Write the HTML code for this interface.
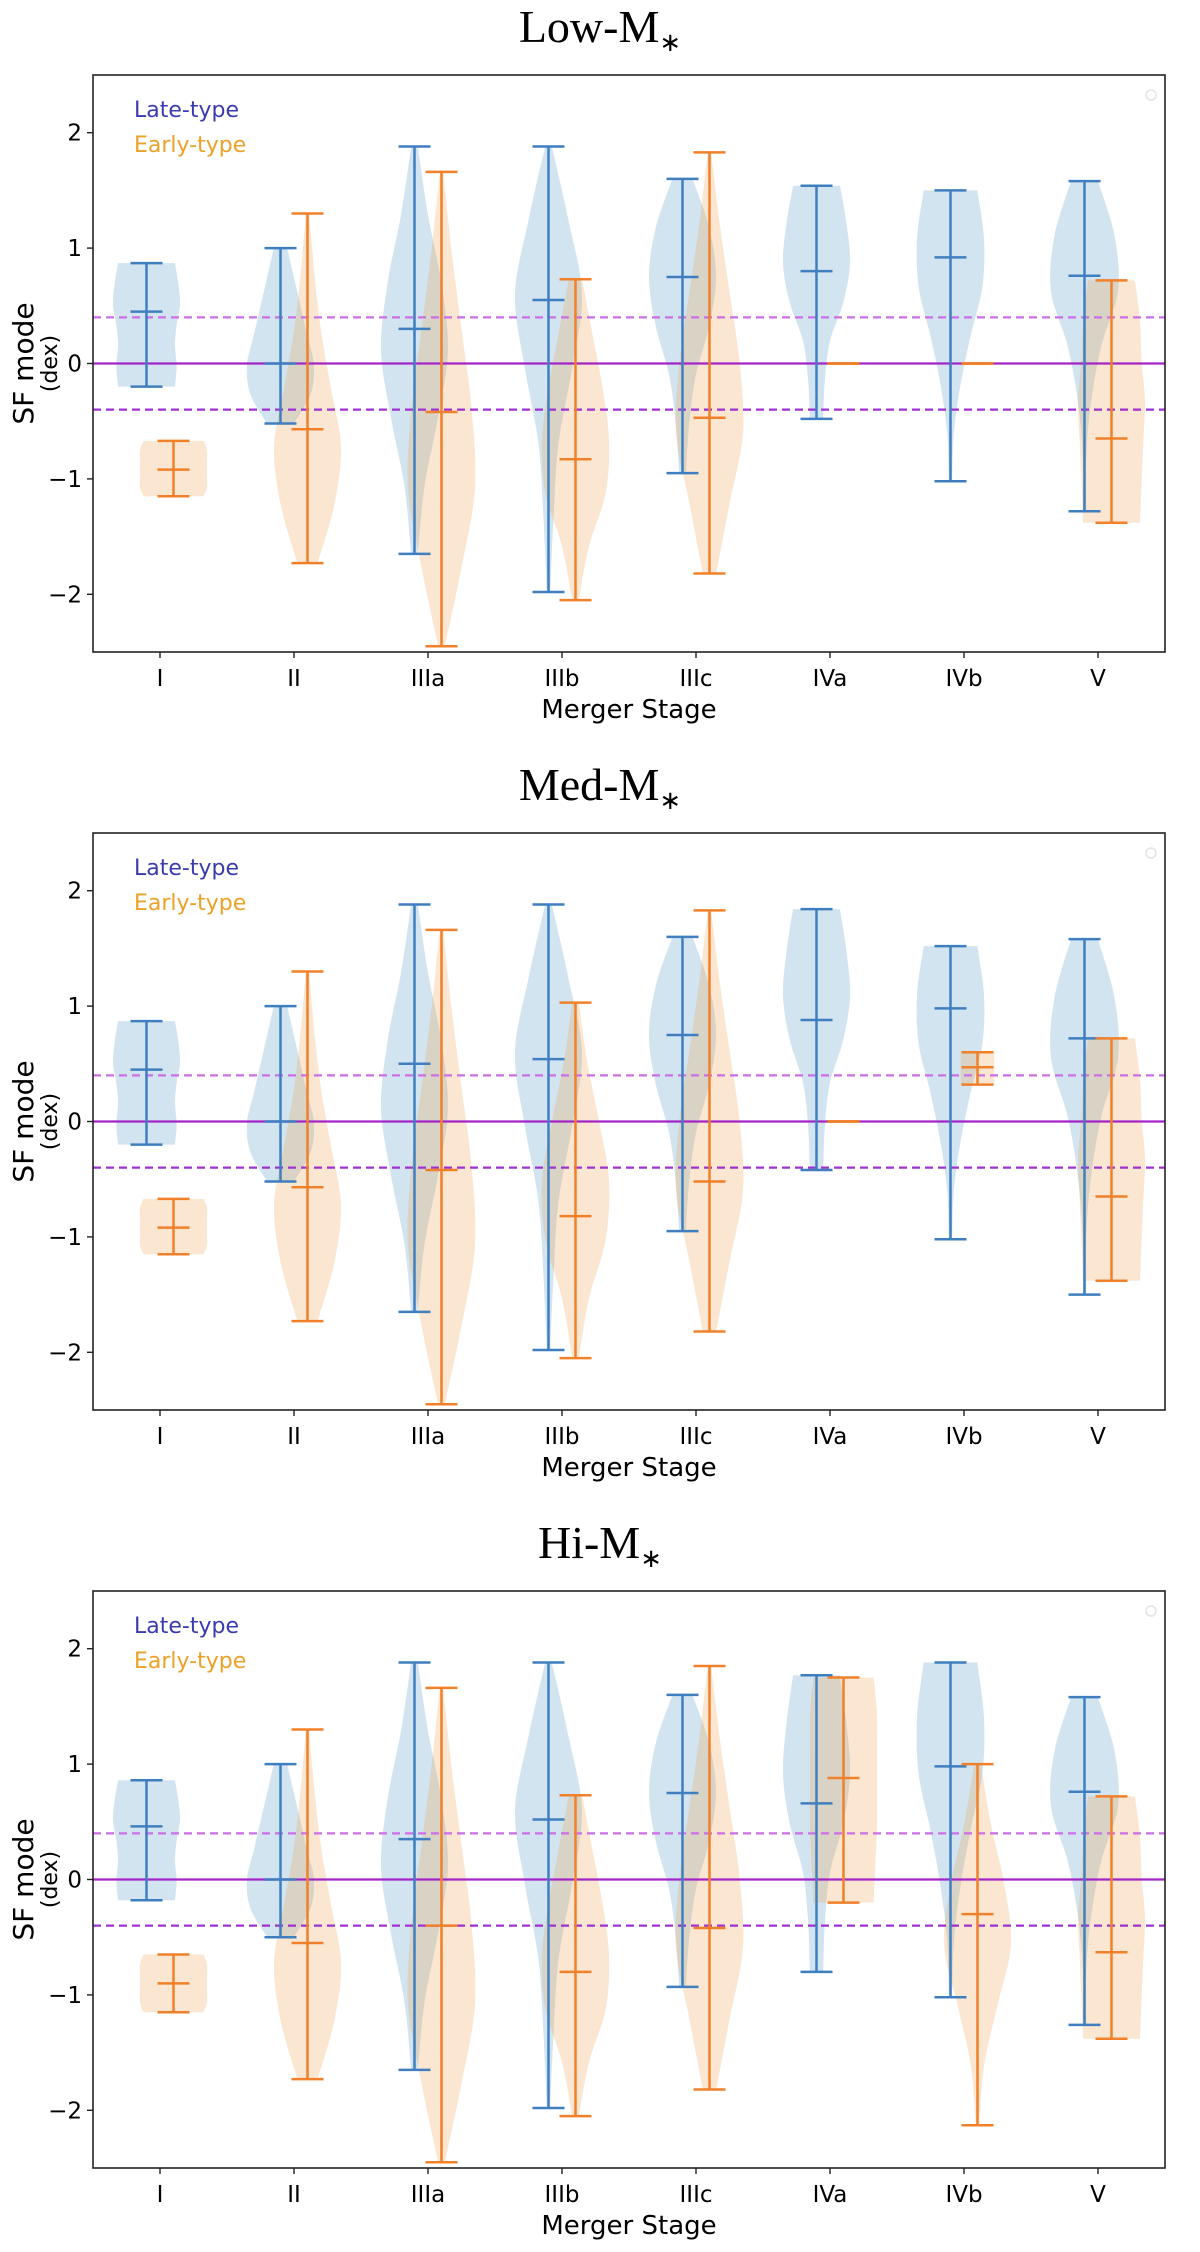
<!DOCTYPE html>
<html><head><meta charset="utf-8">
<style>
html,body{margin:0;padding:0;background:#fff;}
svg{display:block;}
text{font-family:"DejaVu Sans","Liberation Sans",sans-serif;}
text.serif{font-family:"Liberation Serif",serif;}
</style></head>
<body>
<svg id="chart" width="1200" height="2252" viewBox="0 0 1200 2252" xmlns="http://www.w3.org/2000/svg"></svg>
<script>
// ---- data ----
const categories = ["I","II","IIIa","IIIb","IIIc","IVa","IVb","V"];
const panelTitles = ["Low", "Med", "Hi"];
const yTicks = [-2,-1,0,1,2];
const yTickLabels = ["\u22122","\u22121","0","1","2"];
const refLines = [0.4, 0, -0.4];

// [max, median, min] per category, per panel
const lateLow  = [[0.87,0.45,-0.2],[1.0,0.0,-0.52],[1.88,0.3,-1.65],[1.88,0.55,-1.98],[1.6,0.75,-0.95],[1.54,0.8,-0.48],[1.5,0.92,-1.02],[1.58,0.76,-1.28]];
const earlyLow = [[-0.67,-0.92,-1.15],[1.3,-0.57,-1.73],[1.66,-0.42,-2.45],[0.73,-0.83,-2.05],[1.83,-0.47,-1.82],[0,0,0],[0,0,0],[0.72,-0.65,-1.38]];
const lateMed  = [[0.87,0.45,-0.2],[1.0,0.0,-0.52],[1.88,0.5,-1.65],[1.88,0.54,-1.98],[1.6,0.75,-0.95],[1.84,0.88,-0.42],[1.52,0.98,-1.02],[1.58,0.72,-1.5]];
const earlyMed = [[-0.67,-0.92,-1.15],[1.3,-0.57,-1.73],[1.66,-0.42,-2.45],[1.03,-0.82,-2.05],[1.83,-0.52,-1.82],[0,0,0],[0.6,0.47,0.32],[0.72,-0.65,-1.38]];
const lateHi   = [[0.86,0.46,-0.18],[1.0,0.0,-0.5],[1.88,0.35,-1.65],[1.88,0.52,-1.98],[1.6,0.75,-0.93],[1.77,0.66,-0.8],[1.88,0.98,-1.02],[1.58,0.76,-1.26]];
const earlyHi  = [[-0.65,-0.9,-1.15],[1.3,-0.55,-1.73],[1.66,-0.4,-2.45],[0.73,-0.8,-2.05],[1.85,-0.42,-1.82],[1.75,0.88,-0.2],[1.0,-0.3,-2.13],[0.72,-0.63,-1.38]];

// normalized density profiles (top -> bottom)
const lateShapes = [[0.85,0.95,1,0.9,0.85,0.9,0.85],[0.2,0.4,0.6,0.8,1,0.9,0.4],[0.1,0.4,0.8,1,0.7,0.3,0.1],[0.1,0.6,1,0.7,0.3,0.15,0.05],[0.3,0.8,1,0.8,0.4,0.2,0.1],[0.7,0.9,1,0.8,0.4,0.25,0.2],[0.8,1,0.95,0.6,0.3,0.1,0.05],[0.4,0.9,1,0.5,0.2,0.05,0.05]];
const earlyShapesLow = [[0.9,1,1,1,1,1,0.9],[0.05,0.2,0.4,0.7,1,0.8,0.3],[0.05,0.3,0.6,0.9,1,0.6,0.1],[0.2,0.5,0.8,1,0.9,0.4,0.1],[0.05,0.3,0.6,0.9,1,0.6,0.2],null,null,[0.7,0.85,0.9,1,0.95,0.9,0.85]];
const earlyShapesMed = [[0.9,1,1,1,1,1,0.9],[0.05,0.2,0.4,0.7,1,0.8,0.3],[0.05,0.3,0.6,0.9,1,0.6,0.1],[0.1,0.35,0.7,1,0.9,0.4,0.1],[0.05,0.3,0.6,0.9,1,0.6,0.2],null,[0.5,0.5,0.5,0.5,0.5,0.5,0.5],[0.7,0.85,0.9,1,0.95,0.9,0.85]];
const earlyShapesHi = [[0.9,1,1,1,1,1,0.9],[0.05,0.2,0.4,0.7,1,0.8,0.3],[0.05,0.3,0.6,0.9,1,0.6,0.1],[0.2,0.5,0.8,1,0.9,0.4,0.1],[0.05,0.3,0.6,0.9,1,0.6,0.2],[0.9,1,1,1,1,0.95,0.9],[0.1,0.4,0.8,1,0.6,0.2,0.05],[0.7,0.85,0.9,1,0.95,0.9,0.85]];

const lateSets = [lateLow, lateMed, lateHi];
const earlySets = [earlyLow, earlyMed, earlyHi];
const earlyShapeSets = [earlyShapesLow, earlyShapesMed, earlyShapesHi];

// ---- layout ----
const NS = "http://www.w3.org/2000/svg";
const svg = document.getElementById("chart");
const AX_L = 93, AX_R = 1165, AX_H = 577;
const panelTops = [75, 833, 1591];
const Y_MIN = -2.5, Y_MAX = 2.5;
const LATE_LINE = "#3f7fbf", LATE_FILL = "rgba(31,119,180,0.2)";
const EARLY_LINE = "#f0802a", EARLY_FILL = "rgba(240,160,70,0.25)";

function mk(tag, attrs, parent) {
  const e = document.createElementNS(NS, tag);
  for (const k in attrs) e.setAttribute(k, attrs[k]);
  (parent || svg).appendChild(e);
  return e;
}
function xScale(i) { return AX_L + (i + 0.5) * (AX_R - AX_L) / categories.length; }
function makeY(top) { return v => top + (Y_MAX - v) / (Y_MAX - Y_MIN) * AX_H; }
const HALF = 0.25 * (AX_R - AX_L) / categories.length;
const CAP = 16;

function smoothPath(pts) {
  let d = "M" + pts[0][0] + "," + pts[0][1];
  for (let i = 0; i < pts.length - 1; i++) {
    const p0 = pts[Math.max(0, i - 1)], p1 = pts[i], p2 = pts[i + 1], p3 = pts[Math.min(pts.length - 1, i + 2)];
    const c1 = [p1[0] + (p2[0] - p0[0]) / 6, p1[1] + (p2[1] - p0[1]) / 6];
    const c2 = [p2[0] - (p3[0] - p1[0]) / 6, p2[1] - (p3[1] - p1[1]) / 6];
    d += " C" + c1[0] + "," + c1[1] + " " + c2[0] + "," + c2[1] + " " + p2[0] + "," + p2[1];
  }
  return d;
}

function violinBody(g, cx, stats, shape, y, fill, name) {
  if (!shape) return;
  const [mx, , mn] = stats;
  const n = shape.length;
  const right = [], left = [];
  for (let k = 0; k < n; k++) {
    const v = mx - (mx - mn) * k / (n - 1);
    right.push([cx + shape[k] * HALF, y(v)]);
  }
  for (let k = n - 1; k >= 0; k--) {
    const v = mx - (mx - mn) * k / (n - 1);
    left.push([cx - shape[k] * HALF, y(v)]);
  }
  const d = smoothPath(right) + " L" + left[0][0] + "," + left[0][1] + smoothPath(left).replace(/^M[^C]*/, " ") + " Z";
  const p = mk("path", { d: d, fill: fill, stroke: "none" }, g);
  
  
}
function violinLines(g, cx, stats, y, color, name) {
  const [mx, md, mn] = stats;
  const l = mk("line", { x1: cx, x2: cx, y1: y(mx), y2: y(mn), stroke: color, "stroke-width": 2.5 }, g);
  
  
  [[mx, 'max'], [md, 'median'], [mn, 'min']].forEach(([v, lab]) => {
    const c = mk("line", { x1: cx - CAP, x2: cx + CAP, y1: y(v), y2: y(v), stroke: color, "stroke-width": 2.5 }, g);
    
    
  });
}

panelTops.forEach((top, p) => {
  const y = makeY(top);
  const bottom = top + AX_H;
  const g = mk("g", {});
  
  

  // title
  const t = mk("text", { x: 600, y: top - 33, "text-anchor": "middle", "font-size": 46, "class": "serif" }, g);
  
  
  t.textContent = panelTitles[p] + "-M";
  const sub = mk("tspan", { "font-size": 26, dy: 9 }, t);
  sub.textContent = "\u2217";

  // violin bodies
  const late = lateSets[p], early = earlySets[p];
  categories.forEach((c, i) => {
    const cx = xScale(i);
    violinBody(g, cx - 13.5, late[i], lateShapes[i], y, LATE_FILL, 'late-' + c);
    violinBody(g, cx + 13.5, early[i], earlyShapeSets[p][i], y, EARLY_FILL, 'early-' + c);
  });

  // reference lines
  refLines.forEach(v => {
    const attrs = { x1: AX_L, x2: AX_R, y1: y(v), y2: y(v), "stroke-width": 2.2 };
    if (v === 0) { attrs.stroke = "#a424c8"; }
    else { attrs.stroke = v > 0 ? "#cc6ee6" : "#a030d0"; attrs["stroke-dasharray"] = "8,5"; }
    const l = mk("line", attrs, g);
    
    
  });

  // violin lines
  categories.forEach((c, i) => {
    const cx = xScale(i);
    violinLines(g, cx - 13.5, late[i], y, LATE_LINE, 'late-' + c);
    violinLines(g, cx + 13.5, early[i], y, EARLY_LINE, 'early-' + c);
  });

  // frame
  const fr = mk("rect", { x: AX_L, y: top, width: AX_R - AX_L, height: AX_H, fill: "none", stroke: "#222", "stroke-width": 1.6 }, g);
  
  

  // y ticks
  yTicks.forEach((v, k) => {
    const tl = mk("line", { x1: AX_L - 6, x2: AX_L, y1: y(v), y2: y(v), stroke: "#222", "stroke-width": 1.4 }, g);
    
    
    const tx = mk("text", { x: AX_L - 11, y: y(v) + 8, "text-anchor": "end", "font-size": 23 }, g);
    
    
    tx.textContent = yTickLabels[k];
  });
  // x ticks
  categories.forEach((c, i) => {
    const tl = mk("line", { x1: xScale(i), x2: xScale(i), y1: bottom, y2: bottom + 6, stroke: "#222", "stroke-width": 1.4 }, g);
    
    
    const tx = mk("text", { x: xScale(i), y: bottom + 34, "text-anchor": "middle", "font-size": 23 }, g);
    
    
    tx.textContent = c;
  });

  // axis labels
  const xl = mk("text", { x: 629, y: bottom + 66, "text-anchor": "middle", "font-size": 26 }, g);
  
  
  xl.textContent = "Merger Stage";
  const yl = mk("text", { x: 0, y: 0, "text-anchor": "middle", "font-size": 28, transform: "translate(33," + y(0) + ") rotate(-90)" }, g);
  
  
  yl.textContent = "SF mode";
  const yl2 = mk("text", { x: 0, y: 0, "text-anchor": "middle", "font-size": 22, transform: "translate(57," + y(0) + ") rotate(-90)" }, g);
  
  
  yl2.textContent = "(dex)";

  // legend
  const lg1 = mk("text", { x: 134, y: top + 42, "font-size": 22, fill: "#3b3bb0" }, g);
  
  
  lg1.textContent = "Late-type";
  const lg2 = mk("text", { x: 134, y: top + 77, "font-size": 22, fill: "#eda126" }, g);
  
  
  lg2.textContent = "Early-type";
  const hc = mk("circle", { cx: 1151, cy: top + 20, r: 5, fill: "none", stroke: "#e4e4e4", "stroke-width": 1.5 }, g);
  
  
});
</script>
</body></html>
